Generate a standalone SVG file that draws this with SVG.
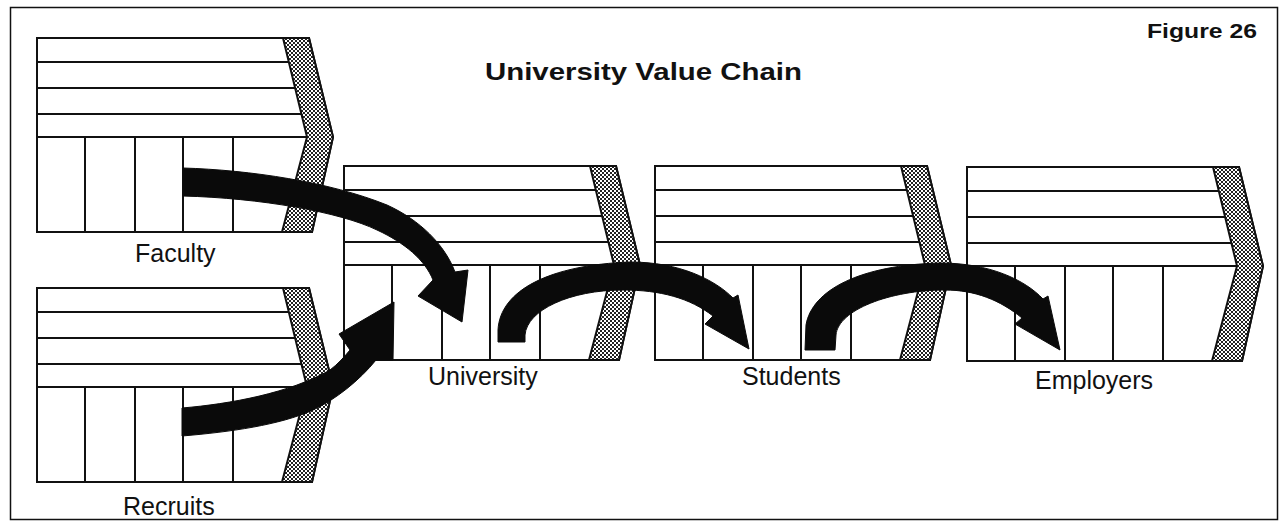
<svg xmlns="http://www.w3.org/2000/svg" xmlns:xlink="http://www.w3.org/1999/xlink" width="1286" height="523" viewBox="0 0 1286 523">
<style>
.frame{fill:#fff;stroke:#111;stroke-width:1.5}
.box{fill:#fff;stroke:#111;stroke-width:2;stroke-linejoin:miter}
.ln{stroke:#111;stroke-width:2;fill:none}
.band{fill:url(#hatch);stroke:#111;stroke-width:2}
.lbl{font-family:"Liberation Sans",Arial,sans-serif;font-size:25px;fill:#111}
.ttl{font-family:"Liberation Sans",Arial,sans-serif;font-weight:bold;fill:#111}
.arrow{fill:#0a0a0a;stroke:#0a0a0a;stroke-width:1;stroke-linejoin:round}
</style>
<defs>
<pattern id="hatch" width="4" height="4" patternUnits="userSpaceOnUse">
<rect width="4" height="4" fill="#fff"/>
<rect width="2" height="2" fill="#222"/>
<rect x="2" y="2" width="2" height="2" fill="#222"/>
</pattern>
<g id="chain">
<path class="box" d="M0,0 L272,0 L296,99 L275,194 L0,194 Z"/>
<path class="band" d="M246,0 L272,0 L296,99 L275,194 L245,194 L270,99 Z"/>
<path class="ln" d="M0,24 H252 M0,50 H258 M0,76 H264 M0,99 H270 M48,99 V194 M98,99 V194 M146,99 V194 M196,99 V194"/>
</g>
</defs>
<rect class="frame" x="10.5" y="7.5" width="1267" height="512"/>
<g id="title">
<text class="ttl" x="485" y="80" font-size="24" textLength="317" lengthAdjust="spacingAndGlyphs">University Value Chain</text>
</g>
<g id="figlabel">
<text class="ttl" x="1147" y="38" font-size="21" textLength="110" lengthAdjust="spacingAndGlyphs">Figure 26</text>
</g>
<g id="faculty">
<use xlink:href="#chain" href="#chain" transform="translate(37,38)"/>
<text class="lbl" x="135" y="262">Faculty</text>
</g>
<g id="recruits">
<use xlink:href="#chain" href="#chain" transform="translate(37,288)"/>
<text class="lbl" x="123" y="515">Recruits</text>
</g>
<g id="university">
<use xlink:href="#chain" href="#chain" transform="translate(344,166)"/>
<text class="lbl" x="428" y="385">University</text>
</g>
<g id="students">
<use xlink:href="#chain" href="#chain" transform="translate(655,166)"/>
<text class="lbl" x="742" y="385">Students</text>
</g>
<g id="employers">
<use xlink:href="#chain" href="#chain" transform="translate(967,167)"/>
<text class="lbl" x="1035" y="389">Employers</text>
</g>
<g id="connectors">
<path class="arrow" d="M183,168 C250,170 330,182 387,205 C420,220 445,245 455,272 L468,270 L462,322 L418,296 L433,280 C425,260 405,243 377,230 C340,212 260,198 183,196 Z"/>
<path class="arrow" d="M182,408 C230,404 290,393 330,370 C338,364 345,356 350,350 L339,334 L394,302 L393,360 L376,360 C360,380 335,400 313,410 C280,425 230,432 182,436 Z"/>
<path class="arrow" d="M498,342 L498,330 C500,290 550,265 630,262 C680,262 715,280 733,298 L738,295 L749,349 L705,324 L713,316 C690,298 660,290 623,290 C570,290 527,310 525,335 L525,342 Z"/>
<path class="arrow" d="M805,350 L806,325 C812,290 860,265 940,263 C990,263 1025,280 1043,299 L1048,296 L1060,350 L1015,324 L1022,318 C1000,300 975,290 945,290 C890,290 838,310 836,335 L835,350 Z"/>
</g>
</svg>
